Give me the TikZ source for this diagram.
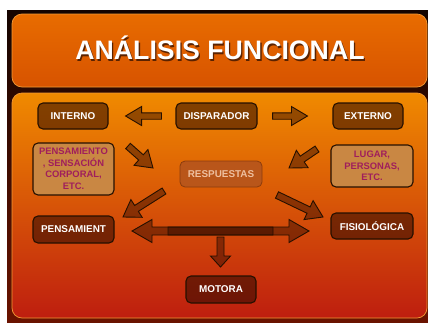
\documentclass[tikz,border=0pt]{standalone}
\usepackage{fontspec}
\setmainfont{Liberation Sans}
\usetikzlibrary{calc}

\definecolor{framedark}{HTML}{140400}
\definecolor{framered}{HTML}{6A1300}
\definecolor{titletop}{HTML}{E86C00}
\definecolor{titlebot}{HTML}{D75300}
\definecolor{titleshade}{HTML}{5A2200}
\definecolor{paneltop}{HTML}{F08A00}
\definecolor{panelmid}{HTML}{DC5A0A}
\definecolor{panelbot}{HTML}{BE1E0F}
\definecolor{paneledge}{HTML}{F39A35}
\definecolor{overlay}{HTML}{2A0800}
\definecolor{nodeline}{HTML}{261000}
\definecolor{tanfill}{HTML}{C98743}
\definecolor{plumtext}{HTML}{A01E5C}
\definecolor{respfill}{HTML}{B9561A}
\definecolor{respline}{HTML}{8C3C0C}
\definecolor{resptext}{HTML}{EEC0A0}

\newcommand\lblfont{\fontsize{9.9}{11.5}\selectfont\bfseries}
\newcommand\smallfont{\fontsize{9.4}{11.5}\selectfont\bfseries}
\newcommand\titlefont{\fontsize{26.7}{30}\selectfont\bfseries}
% title text with a soft drop shadow under it
\newcommand\shadowed[1]{\makebox[0pt][l]{\hspace{1.3pt}\raisebox{-1.6pt}{\textcolor{titleshade}{#1}}}#1}

\tikzset{
  % block arrow geometry: shaft half width, head half width, head length
  bsh/.store in=\bsh, bhh/.store in=\bhh, bhl/.store in=\bhl,
  bsh=3.2pt, bhh=9.5pt, bhl=16pt,
  blockarrow/.style={draw=nodeline, fill=overlay, fill opacity=0.45,
    line width=0.9pt, line join=miter,
    to path={let \p1=($(\tikztotarget)!\bhl!(\tikztostart)$) in
      ($(\tikztostart)!\bsh!-90:(\tikztotarget)$)
      -- ($(\p1)!\bsh!-90:(\tikztotarget)$)
      -- ($(\p1)!\bhh!-90:(\tikztotarget)$)
      -- (\tikztotarget)
      -- ($(\p1)!\bhh!90:(\tikztotarget)$)
      -- ($(\p1)!\bsh!90:(\tikztotarget)$)
      -- ($(\tikztostart)!\bsh!90:(\tikztotarget)$)
      -- cycle}},
  box/.style={rounded corners=5pt, draw=nodeline, line width=1.1pt,
    inner sep=0pt, align=center, font=\lblfont, text opacity=1},
  darkbox/.style={box, fill=overlay, fill opacity=0.55, text=white},
  tanbox/.style={box, fill=tanfill, text=plumtext, font=\smallfont},
  respbox/.style={box, fill=respfill, draw=respline, line width=0.8pt, text=resptext},
}

\begin{document}
\begin{tikzpicture}[x=1pt,y=-1pt]
\useasboundingbox (0,0) rectangle (428,322);

% backdrop and panels
\fill[top color=framedark, bottom color=framered] (7,10) rectangle (428,322);
\draw[paneledge, line width=0.7pt, rounded corners=10pt,
      top color=titletop, bottom color=titlebot] (12,14) rectangle (427,87);
\draw[paneledge, line width=0.7pt, rounded corners=10pt,
      top color=paneltop, middle color=panelmid, bottom color=panelbot] (12,93) rectangle (427,318);

% title
\node[text=white, font=\titlefont] (title) at (220,49) {\shadowed{ANÁLISIS FUNCIONAL}};

% boxes
\node[darkbox, minimum width=70pt, minimum height=26pt] (interno) at (73,116) {INTERNO};
\node[darkbox, minimum width=81pt, minimum height=26pt] (disp) at (216.5,116) {DISPARADOR};
\node[darkbox, minimum width=70pt, minimum height=26pt] (externo) at (368,116) {EXTERNO};
\node[tanbox, minimum width=81pt, minimum height=52pt] (pensam) at (73.5,169) {PENSAMIENTO\\, SENSACIÓN\\CORPORAL,\\ETC.};
\node[tanbox, minimum width=82pt, minimum height=42pt] (lugar) at (372,166) {LUGAR,\\PERSONAS,\\ETC.};
\node[respbox, minimum width=82pt, minimum height=26pt] (resp) at (221,174) {RESPUESTAS};
\node[darkbox, minimum width=81pt, minimum height=27pt] (pens) at (73.5,229.5) {PENSAMIENT};
\node[darkbox, minimum width=82pt, minimum height=26pt] (fisio) at (372,226) {FISIOLÓGICA};
\node[darkbox, minimum width=70pt, minimum height=27pt] (motora) at (221,289.5) {MOTORA};

% arrow ends
\coordinate (dis-in-s) at ($(disp.west)+(-14,0)$);
\coordinate (dis-in-e) at ($(interno.east)+(17,0)$);
\coordinate (dis-ex-s) at ($(disp.east)+(15,0)$);
\coordinate (dis-ex-e) at ($(externo.west)+(-25,0)$);
\coordinate (ul-s) at (128,146);
\coordinate (ul-e) at (153,168);
\coordinate (ur-s) at (317,149);
\coordinate (ur-e) at (289,168);
\coordinate (ll-s) at (164,191);
\coordinate (ll-e) at (123,217);
\coordinate (lr-s) at (277,195);
\coordinate (lr-e) at (323,217);
\coordinate (dl-s) at (273,231);
\coordinate (dl-e) at (132,231);
\coordinate (dr-s) at (168,231);
\coordinate (dr-e) at (309,231);
\coordinate (dn-s) at (220.5,237);
\coordinate (dn-e) at (220.5,267);

% arrows
\draw[blockarrow] (dis-in-s) to (dis-in-e);
\draw[blockarrow] (dis-ex-s) to (dis-ex-e);
\draw[blockarrow, bsh=3.5pt, bhh=10.5pt, bhl=16pt] (ul-s) to (ul-e);
\draw[blockarrow, bsh=3.5pt, bhh=10.5pt, bhl=16pt] (ur-s) to (ur-e);
\draw[blockarrow, bsh=3.5pt, bhh=10.5pt, bhl=16pt] (ll-s) to (ll-e);
\draw[blockarrow, bsh=3.5pt, bhh=10.5pt, bhl=16pt] (lr-s) to (lr-e);
\draw[blockarrow, bsh=3.5pt, bhh=10pt, bhl=11pt] (dn-s) to (dn-e);
\draw[blockarrow, bsh=4pt, bhh=11.5pt, bhl=20pt] (dl-s) to (dl-e);
\draw[blockarrow, bsh=4pt, bhh=11.5pt, bhl=20pt] (dr-s) to (dr-e);
\end{tikzpicture}
\end{document}
